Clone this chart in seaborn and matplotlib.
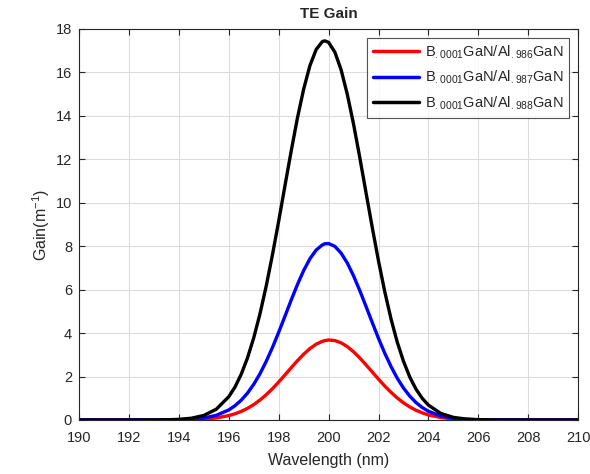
import numpy as np
import pandas as pd
import matplotlib
matplotlib.use('Agg')
import matplotlib.pyplot as plt
import seaborn as sns

# wavelength grid (nm) and gains (m^-1)
wavelength = [190, 191, 192, 193, 193.5, 194, 194.5, 195, 195.5,
              196, 196.25, 196.5, 196.75, 197, 197.25, 197.5, 197.75, 198, 198.25,
              198.5, 198.75, 199, 199.25, 199.5, 199.75, 199.85, 200, 200.25, 200.5,
              200.75, 201, 201.25, 201.5, 201.75, 202, 202.25, 202.5, 202.75, 203,
              203.25, 203.5, 203.75,
              204, 204.5, 205, 205.5, 206, 206.5, 207, 208, 209, 210]

gain_986 = [0, 0, 0, 0.0006, 0.002, 0.006, 0.016, 0.040, 0.094,
            0.201, 0.285, 0.395, 0.535, 0.708, 0.918, 1.163, 1.441, 1.748, 2.073,
            2.405, 2.728, 3.027, 3.285, 3.488, 3.62, 3.654, 3.68, 3.654, 3.55,
            3.374, 3.136, 2.851, 2.535, 2.205, 1.876, 1.561, 1.271, 1.012, 0.788,
            0.600, 0.447, 0.326,
            0.232, 0.110, 0.048, 0.019, 0.007, 0.002, 0.001, 0, 0, 0]

gain_987 = [0, 0, 0, 0.001, 0.004, 0.012, 0.035, 0.090, 0.214,
            0.462, 0.658, 0.913, 1.238, 1.643, 2.129, 2.70, 3.338, 4.04, 4.775,
            5.52, 6.233, 6.88, 7.42, 7.82, 8.06, 8.11, 8.12, 7.99, 7.68,
            7.22, 6.63, 5.95, 5.22, 4.48, 3.75, 3.07, 2.46, 1.92, 1.47,
            1.10, 0.802, 0.573,
            0.400, 0.181, 0.075, 0.028, 0.010, 0.003, 0.001, 0, 0, 0]

gain_988 = [0, 0, 0, 0.0026, 0.0088, 0.028, 0.080, 0.209, 0.496,
            1.073, 1.52, 2.11, 2.86, 3.785, 4.89, 6.17, 7.61, 9.16, 10.78,
            12.38, 13.90, 15.23, 16.31, 17.05, 17.42, 17.45, 17.38, 16.93, 16.12,
            14.98, 13.61, 12.07, 10.45, 8.85, 7.31, 5.90, 4.65, 3.58, 2.70,
            1.98, 1.42, 0.997,
            0.683, 0.298, 0.119, 0.043, 0.014, 0.004, 0.001, 0, 0, 0]

labels = ['B$_{.0001}$GaN/Al$_{.986}$GaN',
          'B$_{.0001}$GaN/Al$_{.987}$GaN',
          'B$_{.0001}$GaN/Al$_{.988}$GaN']
colors = ['#ff0000', '#0000ff', '#000000']

sns.set_style('ticks')
plt.rcParams['font.family'] = ['Liberation Sans', 'DejaVu Sans']
plt.rcParams['mathtext.default'] = 'regular'

n = len(wavelength)
df = pd.DataFrame({'wl': wavelength * 3,
                   'gain': gain_986 + gain_987 + gain_988,
                   'series': [labels[0]] * n + [labels[1]] * n + [labels[2]] * n})

fig = plt.figure(figsize=(5.9, 4.74), dpi=100)
ax = fig.add_axes([0.134, 0.114, 0.846, 0.825])

sns.lineplot(data=df, x='wl', y='gain', hue='series', palette=colors, linewidth=2.4,
             ax=ax, legend=True)

ax.set_xlim(190, 210)
ax.set_ylim(0, 18)
ax.set_xticks(np.arange(190, 211, 2))
ax.set_yticks(np.arange(0, 19, 2))
ax.grid(True, color='#dcdcdc', linewidth=0.8)
ax.set_axisbelow(True)
ax.tick_params(direction='in', top=True, right=True, labelsize=10.5, colors='#262626',
               length=4)
ax.tick_params(axis='x', pad=8)
ax.tick_params(axis='y', pad=5)
for s in ax.spines.values():
    s.set_color('#262626')
    s.set_linewidth(0.8)

ax.set_title('TE Gain', fontsize=11, fontweight='bold', pad=8)
ax.set_xlabel('Wavelength (nm)', fontsize=11.5, color='#262626', labelpad=6)
ax.set_ylabel('Gain(m$^{-1}$)', fontsize=11.5, color='#262626', labelpad=3)

leg = ax.legend(loc='upper right', fontsize=10.5, frameon=True, fancybox=False,
                edgecolor='#262626', handlelength=3.2, borderaxespad=0.6,
                labelspacing=0.55, handletextpad=0.4)
leg.get_frame().set_linewidth(0.8)
for line in leg.get_lines():
    line.set_linewidth(2.5)

fig.savefig('out.png', dpi=100)
